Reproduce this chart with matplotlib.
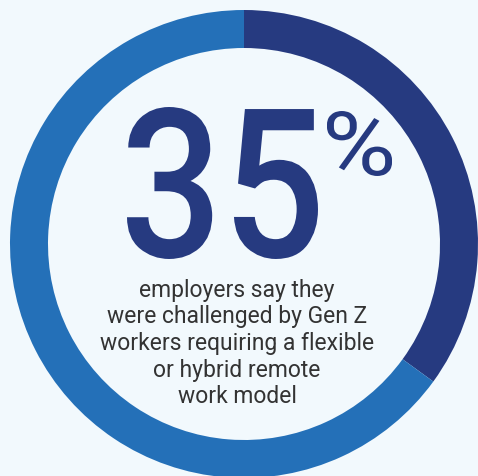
import matplotlib
matplotlib.use("Agg")
import matplotlib.pyplot as plt
from matplotlib.font_manager import FontProperties
from matplotlib.patches import PathPatch
from matplotlib.textpath import TextPath
from matplotlib.transforms import Affine2D

# share of employers (percent) vs the rest of the ring
shares = [35, 65]
ring_colors = ["#263a80", "#2470b8"]
headline = "35"
caption_lines = [
    "employers say they",
    "were challenged by Gen Z",
    "workers requiring a flexible",
    "or hybrid remote",
    "work model",
]

W, H = 478, 477
BG = "#f2f9fd"


def boxed_text(ax, s, x0, y0, x1, y1, color, weight="medium"):
    """Draw a string as a path squeezed into the box (x0, y0)-(x1, y1)."""
    tp = TextPath((0, 0), s, size=100, prop=FontProperties(family="Roboto", weight=weight))
    ext = tp.get_extents()
    sx = (x1 - x0) / ext.width
    sy = (y1 - y0) / ext.height
    tr = Affine2D().translate(-ext.x0, -ext.y0).scale(sx, sy).translate(x0, y0)
    ax.add_patch(PathPatch(tr.transform_path(tp), facecolor=color, edgecolor="none"))


fig = plt.figure(figsize=(W / 100, H / 100), dpi=100, facecolor=BG)
ax = fig.add_axes([0, 0, 1, 1])
ax.set_facecolor(BG)

cx, cy = 244, H - 245
ax.pie(shares, colors=ring_colors, startangle=90, counterclock=False,
       radius=234, center=(cx, cy), wedgeprops=dict(width=38, linewidth=0))
ax.set_xlim(0, W)
ax.set_ylim(0, H)
ax.set_aspect("auto")
ax.axis("off")

# big number + superscript percent sign
boxed_text(ax, headline, 127, H - 260, 318, H - 108, ring_colors[0])
boxed_text(ax, "%", 327, H - 177, 392, H - 112, ring_colors[0], weight="normal")

y0, step = 290, 26.75
for i, line in enumerate(caption_lines):
    ax.text(237, H - (y0 + i * step), line, ha="center", va="center",
            fontsize=16.5, color="#333333", family="Roboto")

fig.savefig("out.png", dpi=100, facecolor=BG)
